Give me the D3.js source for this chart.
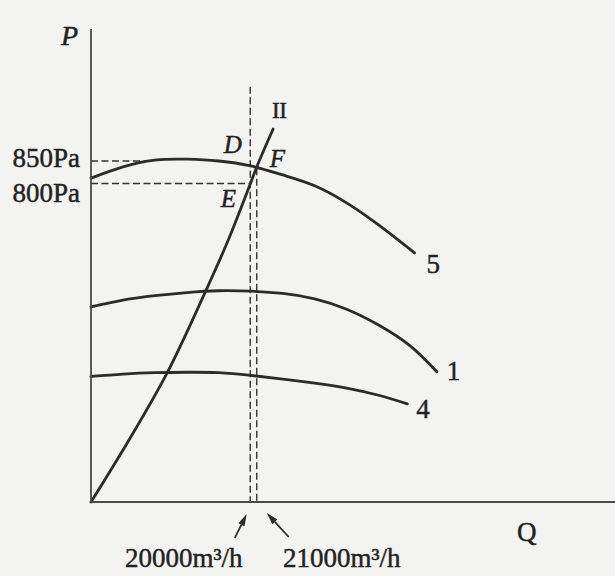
<!DOCTYPE html>
<html>
<head>
<meta charset="utf-8">
<script src="https://cdn.jsdelivr.net/npm/d3@7"></script>
<style>
  html, body { margin: 0; padding: 0; background: #f3f3f1; }
  svg { display: block; }
  text { font-family: "Liberation Serif", "DejaVu Serif", serif; fill: #222; stroke: #222; stroke-width: 0.45; }
</style>
</head>
<body>
<svg id="chart" width="615" height="576"></svg>
<script>
// ---- data (Q in m3/h, P in Pa) ----
const curve5Q = [0, 4000, 8000, 12000, 16000, 20000, 24000, 28000, 32000, 36000, 40500];
const curve5P = [812, 837, 852, 854, 850, 839, 819, 795, 757, 708, 646];

const curve1Q = [0, 4000, 8000, 12000, 16000, 20000, 24000, 28000, 32000, 36000, 40000, 43300];
const curve1P = [526, 541, 551, 558, 562, 561, 556, 544, 521, 486, 439, 382];

const curve4Q = [0, 4000, 8000, 12000, 16000, 20000, 24000, 28000, 32000, 36000, 39600];
const curve4P = [372, 377, 380, 381, 380, 374, 366, 357, 346, 330, 311];

const systemQ = [0, 5000, 9600, 14300, 17200, 19900, 20800, 22800];
const systemP = [93, 238, 382, 559, 675, 797, 839, 921];

const pTicks = [850, 800];
const pTickLabels = ["850Pa", "800Pa"];
const qMarks = [20000, 21000];
const qMarkLabels = ["20000m³/h", "21000m³/h"];
const curveLabels = ["5", "1", "4"];
const pointLabels = ["D", "E", "F"];

// ---- scales ----
const x = d3.scaleLinear().domain([0, 65600]).range([91, 615]);
const y = d3.scaleLinear().domain([93, 1143]).range([502, 29]);

const svg = d3.select("#chart");
const ink = "#2b2b2b";

const zip = (qs, ps) => qs.map((q, i) => [q, ps[i]]);
const fanLine = d3.line().x(d => x(d[0])).y(d => y(d[1])).curve(d3.curveNatural);
const sysLine = d3.line().x(d => x(d[0])).y(d => y(d[1])).curve(d3.curveCatmullRom.alpha(0.5));

// ---- dashed guide lines ----
const dash = "7,3.5";
const guides = svg.append("g").attr("stroke", "#333").attr("stroke-width", 1.4)
  .attr("stroke-dasharray", dash).attr("fill", "none");
guides.append("line").attr("x1", x(0)).attr("x2", x(7100)).attr("y1", y(pTicks[0])).attr("y2", y(pTicks[0]));
guides.append("line").attr("x1", x(0)).attr("x2", x(qMarks[0])).attr("y1", y(pTicks[1])).attr("y2", y(pTicks[1]));
guides.append("line").attr("x1", x(qMarks[0]) - 0.5).attr("x2", x(qMarks[0]) - 0.5).attr("y1", y(1015)).attr("y2", y(93));
guides.append("line").attr("x1", x(qMarks[1]) - 2).attr("x2", x(qMarks[1]) - 2).attr("y1", y(834)).attr("y2", y(93));

// ---- curves ----
const curves = svg.append("g").attr("fill", "none").attr("stroke", ink)
  .attr("stroke-width", 2.8).attr("stroke-linecap", "round");
[zip(curve5Q, curve5P), zip(curve1Q, curve1P), zip(curve4Q, curve4P)].forEach(d => {
  curves.append("path").attr("d", fanLine(d));
});
curves.append("path").attr("d", sysLine(zip(systemQ, systemP)));

// ---- axes ----
const axisG = svg.append("g").attr("stroke", "#4a4a4a").attr("stroke-width", 1.8);
axisG.append("line").attr("x1", x(0)).attr("x2", x(0)).attr("y1", y(1143)).attr("y2", y(93));
axisG.append("line").attr("x1", x(0)).attr("x2", x(65600)).attr("y1", y(93)).attr("y2", y(93));

// ---- texts ----
svg.append("text").attr("x", 61).attr("y", 45).attr("font-size", 28)
  .attr("font-style", "italic").text("P");
svg.append("text").attr("x", 517).attr("y", 541).attr("font-size", 27).text("Q");

svg.append("text").attr("x", 80).attr("y", y(pTicks[0]) + 6).attr("font-size", 27)
  .attr("text-anchor", "end").text(pTickLabels[0]);
svg.append("text").attr("x", 80).attr("y", y(pTicks[1]) + 18.5).attr("font-size", 27)
  .attr("text-anchor", "end").text(pTickLabels[1]);

const lab = svg.append("g").attr("font-size", 25).attr("font-style", "italic");
lab.append("text").attr("x", x(qMarks[0]) - 27).attr("y", 153).text(pointLabels[0]);
lab.append("text").attr("x", x(qMarks[0]) - 30).attr("y", 207).text(pointLabels[1]);
lab.append("text").attr("x", x(qMarks[1]) + 11).attr("y", 167).text(pointLabels[2]);

svg.append("text").attr("x", 272).attr("y", 118).attr("font-size", 23)
  .attr("letter-spacing", -0.5).text("II");

const cl = svg.append("g").attr("font-size", 27);
cl.append("text").attr("x", x(40500) + 12).attr("y", 273).text(curveLabels[0]);
cl.append("text").attr("x", x(43300) + 10).attr("y", 380).text(curveLabels[1]);
cl.append("text").attr("x", x(39600) + 9).attr("y", 418).text(curveLabels[2]);

svg.append("text").attr("x", 125).attr("y", 567).attr("font-size", 27).text(qMarkLabels[0]);
svg.append("text").attr("x", 283).attr("y", 567).attr("font-size", 27).text(qMarkLabels[1]);

function arrow(x1, y1, x2, y2) {
  const ang = Math.atan2(y2 - y1, x2 - x1);
  const len = 12, half = 3.4;
  const bx = x2 - len * Math.cos(ang), by = y2 - len * Math.sin(ang);
  const px = -Math.sin(ang) * half, py = Math.cos(ang) * half;
  svg.append("line").attr("x1", x1).attr("y1", y1).attr("x2", bx).attr("y2", by)
    .attr("stroke", ink).attr("stroke-width", 1.7);
  svg.append("path").attr("d", `M${x2},${y2}L${bx + px},${by + py}L${bx - px},${by - py}Z`)
    .attr("fill", ink);
}
arrow(x(qMarks[0]) - 16, 538, x(qMarks[0]) - 4, 514);
arrow(x(qMarks[1]) + 30, 537, x(qMarks[1]) + 8, 513);
</script>
</body>
</html>
